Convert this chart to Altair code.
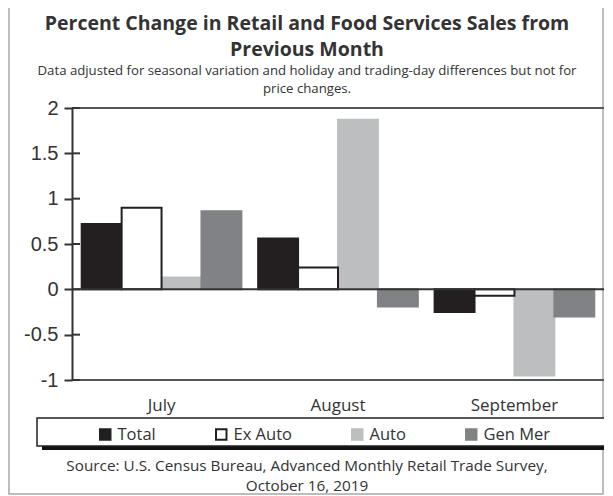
import altair as alt
import pandas as pd

months = ["July", "August", "September"]
series = ["Total", "Ex Auto", "Auto", "Gen Mer"]
total = [0.72, 0.56, -0.25]
ex_auto = [0.90, 0.24, -0.07]
auto = [0.13, 1.87, -0.95]
gen_mer = [0.86, -0.19, -0.30]
y_ticks = [-1, -0.5, 0, 0.5, 1, 1.5, 2]
frame_values = [2, -1]
fill_colors = ["#231f20", "#ffffff", "#bcbec0", "#808285"]
stroke_colors = ["#231f20", "#231f20", "#bcbec0", "#808285"]

title_lines = ["Percent Change in Retail and Food Services Sales from", "Previous Month"]
subtitle_lines = ["Data adjusted for seasonal variation and holiday and trading-day differences but not for",
                  "price changes."]
source_lines = ["Source: U.S. Census Bureau, Advanced Monthly Retail Trade Survey,", "October 16, 2019"]

rows = []
# Ex Auto drawn last so its outline stays visible
draw_order = ["Total", "Auto", "Gen Mer", "Ex Auto"]
values_by_series = dict(zip(series, [total, ex_auto, auto, gen_mer]))
for s in draw_order:
    for m, v in zip(months, values_by_series[s]):
        rows.append({"month": m, "series": s, "value": v})
df = pd.DataFrame(rows)

W, H = 532, 272
CX = 235  # horizontal centre of the title / source block, relative to the plot

legend = alt.Legend(
    title=None, orient="none", legendX=25, legendY=318, direction="horizontal",
    symbolType="square", symbolSize=110, symbolStrokeWidth=2, columnPadding=56,
    labelFont="Open Sans", labelFontSize=16.5, labelColor="#333", padding=0, labelOffset=4,
)

bars = alt.Chart(df).mark_bar(strokeWidth=2).encode(
    x=alt.X("month:N", sort=months,
            scale=alt.Scale(paddingInner=0.095, paddingOuter=0.055),
            axis=alt.Axis(domain=False, ticks=False, labelAngle=0, labelPadding=17,
                          labelFont="Open Sans", labelFontSize=17, labelColor="#333", title=None)),
    xOffset=alt.XOffset("series:N", sort=series, scale=alt.Scale(paddingInner=0, paddingOuter=0)),
    y=alt.Y("value:Q", scale=alt.Scale(domain=[-1, 2], nice=False),
            axis=alt.Axis(values=y_ticks, title=None, grid=False, labelExpr="'' + datum.value",
                          domainColor="#333", domainWidth=2, tickColor="#333", tickWidth=2,
                          tickSize=8, labelFont="Liberation Sans", labelFontSize=20,
                          labelColor="#333", labelPadding=6)),
    fill=alt.Fill("series:N", sort=series, scale=alt.Scale(domain=series, range=fill_colors), legend=legend),
    stroke=alt.Stroke("series:N", sort=series, scale=alt.Scale(domain=series, range=stroke_colors), legend=legend),
)

frame_lines = alt.Chart(pd.DataFrame({"value": frame_values})).mark_rule(
    color="#555", strokeWidth=2).encode(y="value:Q")
zero_line = alt.Chart(pd.DataFrame({"value": [0]})).mark_rule(
    color="#333", strokeWidth=2).encode(y="value:Q")
inner_ticks = alt.Chart(pd.DataFrame({"value": y_ticks})).mark_rule(color="#333", strokeWidth=2).encode(
    y="value:Q", x=alt.value(0), x2=alt.value(8))

one = pd.DataFrame({"k": [0]})
outer_frame = alt.Chart(one).mark_rect(fillOpacity=0, stroke="#a8a8a8", strokeWidth=1.5).encode(
    x=alt.value(-63), x2=alt.value(531), y=alt.value(-105), y2=alt.value(386))
legend_shadow = alt.Chart(one).mark_rect(color="#111").encode(
    x=alt.value(-30), x2=alt.value(545), y=alt.value(314), y2=alt.value(342))
legend_box = alt.Chart(one).mark_rect(fill="white", stroke="#222", strokeWidth=1.5).encode(
    x=alt.value(-35), x2=alt.value(545), y=alt.value(310), y2=alt.value(338))


def text_line(txt, y, size, weight="normal"):
    return alt.Chart(one).mark_text(
        font="Open Sans", fontSize=size, fontWeight=weight, color="#333",
        align="center", baseline="middle").encode(
        x=alt.value(CX), y=alt.value(y), text=alt.value(txt))


texts = [
    text_line(title_lines[0], -84, 19.5, "bold"),
    text_line(title_lines[1], -58, 19.5, "bold"),
    text_line(subtitle_lines[0], -37, 13.2),
    text_line(subtitle_lines[1], -19, 13.2),
    text_line(source_lines[0], 358, 15.3),
    text_line(source_lines[1], 378, 15.3),
]

chart = alt.layer(
    outer_frame, legend_shadow, legend_box, bars, frame_lines, zero_line, inner_ticks, *texts
).properties(
    width=W, height=H,
    padding={"left": 64, "top": 100, "right": 0, "bottom": 120},
    autosize=alt.AutoSizeParams(type="none"),
).configure_view(strokeWidth=0)

chart.save("out.html", embed_options={"renderer": "svg", "actions": False})
